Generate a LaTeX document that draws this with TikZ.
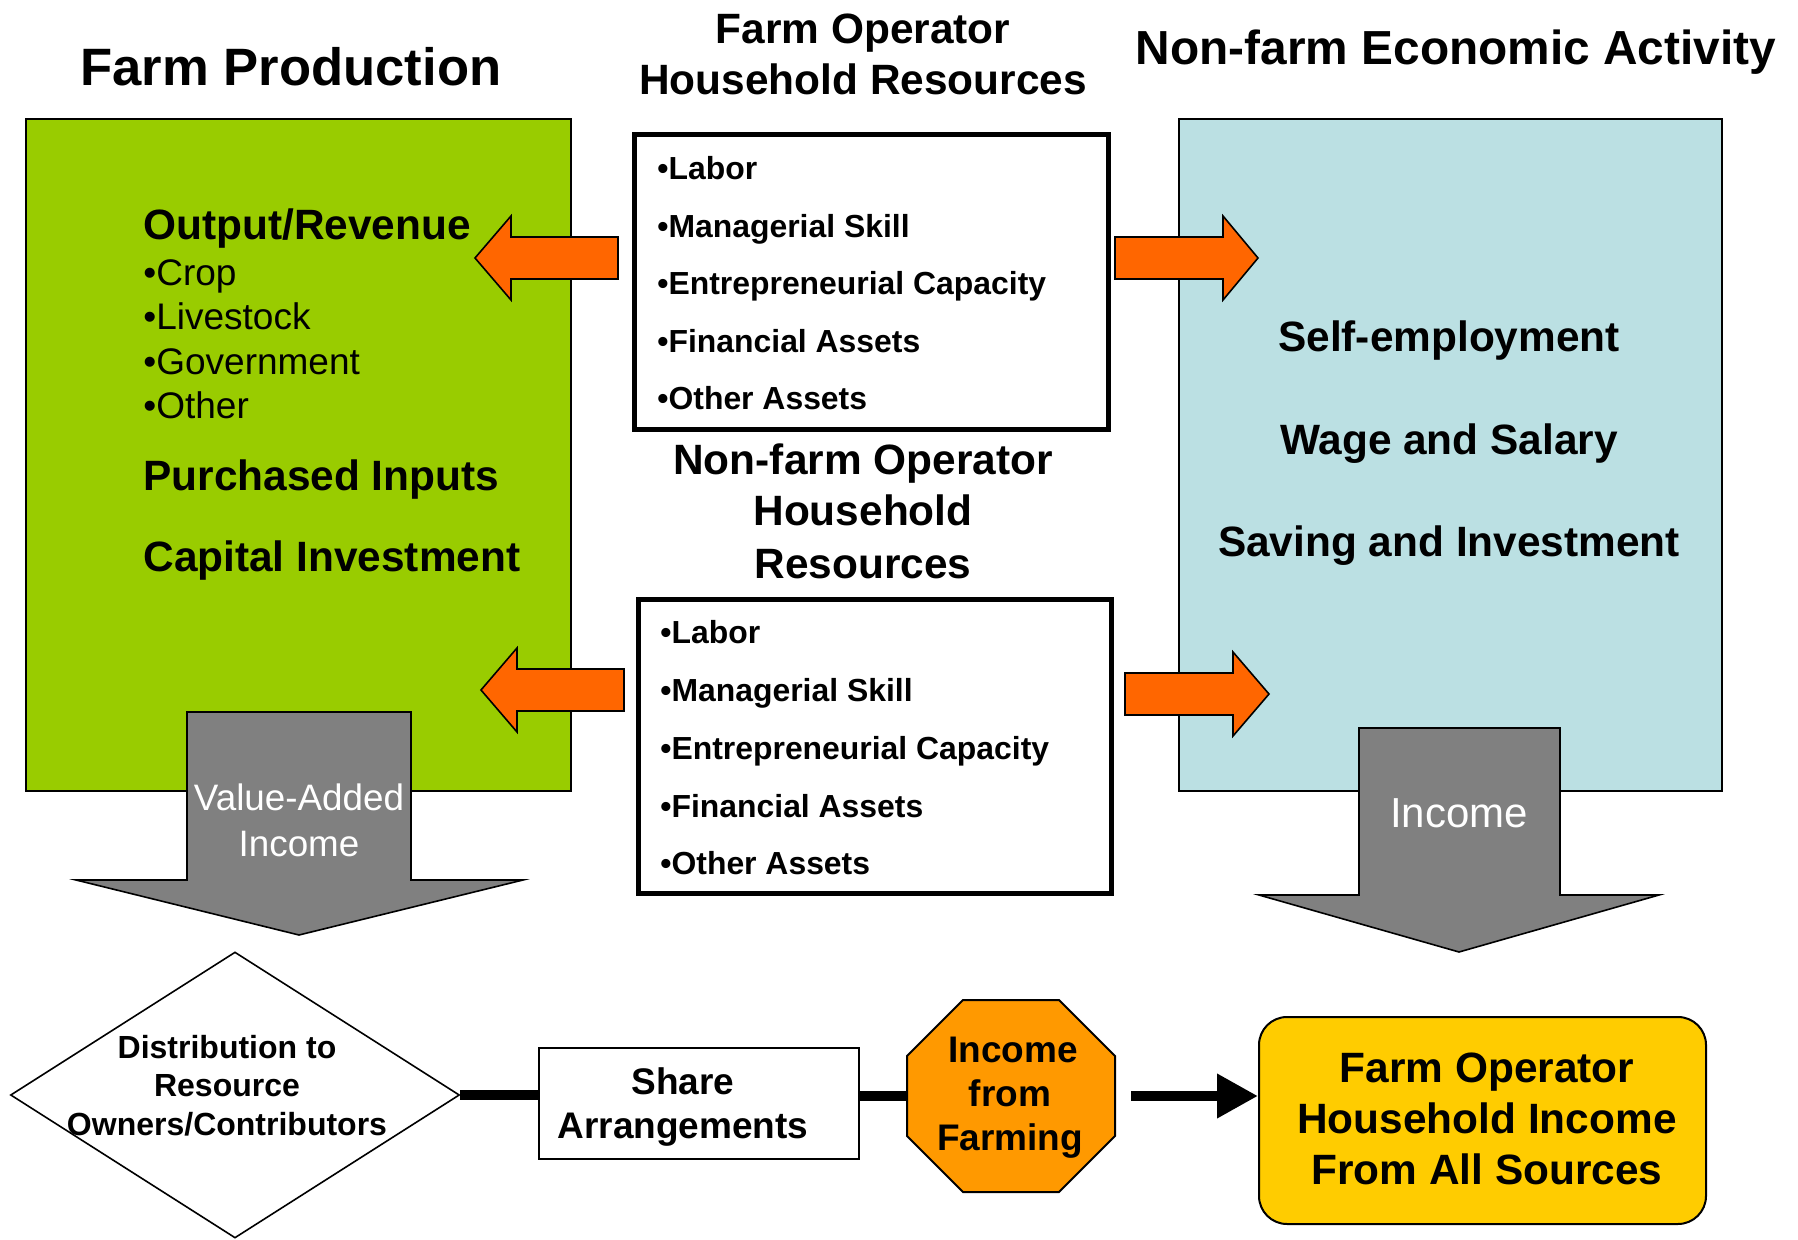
\documentclass[tikz,border=0pt]{standalone}
\usepackage{fontspec}
\setmainfont{Liberation Sans}
\usetikzlibrary{shapes.geometric,arrows.meta}
\definecolor{farmgreen}{HTML}{99CC00}
\definecolor{nfblue}{HTML}{BBE0E3}
\definecolor{arrorange}{HTML}{FF6600}
\definecolor{flowgray}{HTML}{808080}
\definecolor{octorange}{HTML}{FF9900}
\definecolor{goldbox}{HTML}{FFCC00}
\newcommand\myfs[1]{\fontsize{#1pt}{#1pt}\selectfont}
\begin{document}
\begin{tikzpicture}[x=0.5pt,y=-0.5pt,
  t/.style={inner sep=0pt,anchor=base},
  tl/.style={inner sep=0pt,anchor=base west},
  bigbox/.style={draw=black,line width=1pt},
  oarrow/.style={draw=black,line width=0.8pt,fill=arrorange,line join=miter},
  garrow/.style={draw=black,line width=0.8pt,fill=flowgray,line join=miter},
  resbox/.style={draw=black,line width=2.5pt,fill=white},
  conn/.style={line width=5pt},
  ttl/.style={t,font=\bfseries\myfs{21.2}},
  grn/.style={tl,font=\bfseries\myfs{21.2}},
  grnitem/.style={tl,font=\myfs{18.5}},
  res/.style={tl,font=\bfseries\myfs{15.95}},
  blu/.style={t,font=\bfseries\myfs{21.2}},
]
\useasboundingbox (0,0) rectangle (1798,1240);
\fill[white] (0,0) rectangle (1798,1240);

% main boxes
\path[bigbox,fill=farmgreen] (26,119) rectangle (571,791);
\path[bigbox,fill=nfblue] (1179,119) rectangle (1722,791);

% orange arrows
\path[oarrow] (618,237) -- (511,237) -- (511,216) -- (475,258) -- (511,300) -- (511,279) -- (618,279) -- cycle;
\path[oarrow] (624,669) -- (517,669) -- (517,648) -- (481,690) -- (517,732) -- (517,711) -- (624,711) -- cycle;
\path[oarrow] (1115,237) -- (1223,237) -- (1223,216) -- (1258,258) -- (1223,300) -- (1223,279) -- (1115,279) -- cycle;
\path[oarrow] (1125,673) -- (1233,673) -- (1233,652) -- (1269,694) -- (1233,736) -- (1233,715) -- (1125,715) -- cycle;

% gray arrows
\path[garrow] (187,712) -- (411,712) -- (411,880) -- (523,880) -- (299,935) -- (76,880) -- (187,880) -- cycle;
\path[garrow] (1359,728) -- (1560,728) -- (1560,895) -- (1659,895) -- (1459,952) -- (1259,895) -- (1359,895) -- cycle;

% resource boxes
\path[resbox] (634,135) rectangle (1108,430);
\path[resbox] (638,599) rectangle (1111,893);

% titles
\node[t,font=\bfseries\myfs{26.3}] (tfp) at (291,86) {Farm Production};
\node[ttl] (tfo1) at (863,44) {Farm Operator};
\node[ttl] (tfo2) at (863,95) {Household Resources};
\node[t,font=\bfseries\myfs{23.9}] (tnf) at (1456,65) {Non-farm Economic Activity};
\node[ttl] (tno1) at (863,475) {Non-farm Operator};
\node[ttl] (tno2) at (863,526) {Household};
\node[ttl] (tno3) at (863,578) {Resources};

% farm production contents
\node[grn] (g1) at (143,240) {Output/Revenue};
\node[grnitem] (g2) at (143,286) {•Crop};
\node[grnitem] (g3) at (143,330) {•Livestock};
\node[grnitem] (g4) at (143,375) {•Government};
\node[grnitem] (g5) at (143,419) {•Other};
\node[grn] (g6) at (143,491) {Purchased Inputs};
\node[grn] (g7) at (143,571) {Capital Investment};

% upper resources
\node[res] (u1) at (657,180) {•Labor};
\node[res] (u2) at (657,238) {•Managerial Skill};
\node[res] (u3) at (657,295) {•Entrepreneurial Capacity};
\node[res] (u4) at (657,353) {•Financial Assets};
\node[res] (u5) at (657,410) {•Other Assets};

% lower resources
\node[res] (l1) at (660,643) {•Labor};
\node[res] (l2) at (660,701) {•Managerial Skill};
\node[res] (l3) at (660,759) {•Entrepreneurial Capacity};
\node[res] (l4) at (660,817) {•Financial Assets};
\node[res] (l5) at (660,874) {•Other Assets};

% non-farm contents
\node[blu] (b1) at (1449,352) {Self-employment};
\node[blu] (b2) at (1449,455) {Wage and Salary};
\node[blu] (b3) at (1449,557) {Saving and Investment};

% gray arrow labels
\node[t,font=\myfs{18.4},text=white] (va1) at (299,810) {Value-Added};
\node[t,font=\myfs{18.4},text=white] (va2) at (299,856) {Income};
\node[t,font=\myfs{21},text=white] (inc) at (1459,827) {Income};

% bottom row shapes
\node[diamond,draw=black,line width=0.8pt,fill=white,minimum width=224.5pt,minimum height=143pt,inner sep=0pt] (dist) at (235,1095) {};
\node[draw=black,line width=1pt,fill=white,minimum width=160pt,minimum height=55.5pt,inner sep=0pt] (share) at (699,1103.5) {};
\path[draw=black,line width=1pt,fill=octorange] (963,1000) -- (1059,1000) -- (1115,1056) -- (1115,1136) -- (1059,1192) -- (963,1192) -- (907,1136) -- (907,1056) -- cycle;
\node[inner sep=0pt,minimum width=104pt,minimum height=96pt] (oct) at (1011,1096) {};
\node[draw=black,line width=1pt,fill=goldbox,rounded corners=14pt,minimum width=223.5pt,minimum height=103.5pt,inner sep=0pt] (total) at (1482.5,1120.5) {};

% connectors
\draw[conn] (dist.east) -- (dist.east -| share.west);
\draw[conn] (share.east |- oct.west) -- (oct.west);
\draw[conn,-{Triangle[length=20.5pt,width=21pt]}] ([xshift=8pt]oct.east) -- (oct.east -| total.west);

% bottom texts
\node[t,font=\bfseries\myfs{16}] (d1) at (227,1058) {Distribution to};
\node[t,font=\bfseries\myfs{16}] (d2) at (227,1096) {Resource};
\node[t,font=\bfseries\myfs{16}] (d3) at (227,1135) {Owners/Contributors};
\node[t,font=\bfseries\myfs{18.5}] (s1) at (683,1094) {Share};
\node[t,font=\bfseries\myfs{18.5}] (s2) at (683,1138) {Arrangements};
\node[t,font=\bfseries\myfs{18.5}] (o1) at (1013,1062) {Income};
\node[t,font=\bfseries\myfs{18.5}] (o2) at (1010,1106) {from};
\node[t,font=\bfseries\myfs{18.5}] (o3) at (1010,1150) {Farming};
\node[t,font=\bfseries\myfs{21.2}] (y1) at (1487,1082) {Farm Operator};
\node[t,font=\bfseries\myfs{21.2}] (y2) at (1487,1133) {Household Income};
\node[t,font=\bfseries\myfs{21.2}] (y3) at (1487,1184) {From All Sources};
\end{tikzpicture}
\end{document}
